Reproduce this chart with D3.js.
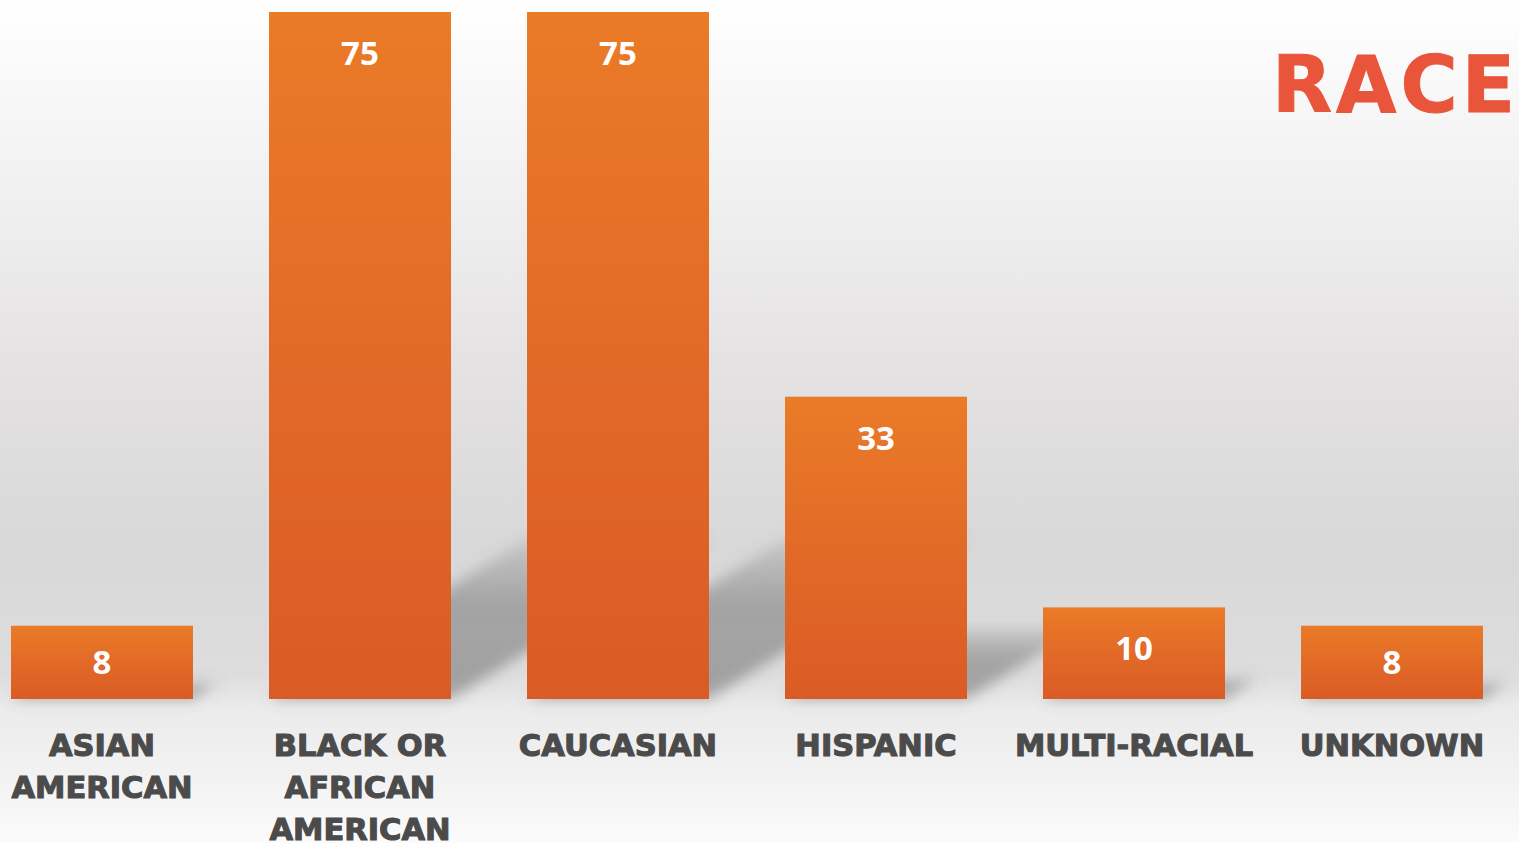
<!DOCTYPE html>
<html>
<head>
<meta charset="utf-8">
<script src="https://cdn.jsdelivr.net/npm/d3@7"></script>
<style>
  html, body { margin: 0; padding: 0; overflow: hidden; background: #fff; }
  svg { display: block; }
</style>
</head>
<body>
<svg id="chart" width="1519" height="843"></svg>
<script>
// ---- data ----
const categories = ["ASIAN\nAMERICAN", "BLACK OR\nAFRICAN\nAMERICAN", "CAUCASIAN", "HISPANIC", "MULTI-RACIAL", "UNKNOWN"];
const values = [8, 75, 75, 33, 10, 8];
const title = "RACE";

// ---- layout ----
const W = 1519, H = 843;
const svg = d3.select("#chart");
const defs = svg.append("defs");

// background gradient
const bg = defs.append("linearGradient").attr("id", "bg").attr("x1", 0).attr("y1", 0).attr("x2", 0).attr("y2", 1);
[[0, "#ffffff"], [0.2, "#f3f2f2"], [0.45, "#e3e1e2"], [0.65, "#d9d8d8"], [0.8, "#dedddd"], [0.84, "#ebebeb"], [0.92, "#f2f2f2"], [1, "#fbfbfb"]]
  .forEach(([o, c]) => bg.append("stop").attr("offset", o).attr("stop-color", c));
svg.append("rect").attr("width", W).attr("height", H).attr("fill", "url(#bg)");

// bar gradient
const bar = defs.append("linearGradient").attr("id", "barGrad").attr("x1", 0).attr("y1", 0).attr("x2", 0).attr("y2", 1);
[[0, "#ea7b27"], [0.5, "#e26a27"], [1, "#da5b25"]]
  .forEach(([o, c]) => bar.append("stop").attr("offset", o).attr("stop-color", c));

// shadow gradient (fades toward its top)
const sg = defs.append("linearGradient").attr("id", "shGrad").attr("x1", 0).attr("y1", 1).attr("x2", 0).attr("y2", 0);
[[0, "#6e6e6e", 0.55], [0.6, "#6e6e6e", 0.5], [1, "#6e6e6e", 0.15]]
  .forEach(([o, c, a]) => sg.append("stop").attr("offset", o).attr("stop-color", c).attr("stop-opacity", a));

// shadow blur
const f = defs.append("filter").attr("id", "blur").attr("x", "-20%").attr("y", "-20%").attr("width", "140%").attr("height", "140%");
f.append("feGaussianBlur").attr("stdDeviation", 7);

const x = d3.scaleBand().domain(d3.range(categories.length)).range([11, 1483]).paddingInner(0.2946).paddingOuter(0);
const y = d3.scaleLinear().domain([0, 75]).range([699, 12]);
const bw = x.bandwidth();

// shadows
const shadowG = svg.append("g").attr("filter", "url(#blur)");
shadowG.selectAll("polygon").data(values).join("polygon")
  .attr("points", (v, i) => {
    const x0 = x(i), x1 = x0 + bw, yb = y(0);
    const h = y(0) - y(v);
    const dy = 0.235 * h, dx = dy / 0.62;
    return [[x0, yb], [x1, yb], [x1 + dx, yb - dy], [x0 + dx, yb - dy]].map(p => p.join(",")).join(" ");
  })
  .attr("fill", "url(#shGrad)");

// bars
svg.append("g").selectAll("rect").data(values).join("rect")
  .attr("x", (v, i) => x(i))
  .attr("y", v => y(v))
  .attr("width", bw)
  .attr("height", v => y(0) - y(v))
  .attr("fill", "url(#barGrad)");

// value labels
svg.append("g").selectAll("text").data(values).join("text")
  .attr("x", (v, i) => x(i) + bw / 2)
  .attr("y", v => Math.min(y(v) + 41, (y(v) + y(0)) / 2) + 12)
  .attr("text-anchor", "middle")
  .attr("fill", "#ffffff")
  .attr("font-family", "'Open Sans', sans-serif")
  .attr("font-weight", 700)
  .attr("font-size", 33)
  .text(v => v);

// category labels
const lab = svg.append("g").selectAll("text").data(categories).join("text")
  .attr("text-anchor", "middle")
  .attr("fill", "#4b4b4b")
  .attr("stroke", "#4b4b4b")
  .attr("stroke-width", 1.1)
  .attr("font-family", "'DejaVu Sans', sans-serif")
  .attr("font-weight", 700)
  .attr("font-size", 30.5);
lab.each(function (c, i) {
  const t = d3.select(this);
  c.split("\n").forEach((line, k) => {
    t.append("tspan").attr("x", x(i) + bw / 2).attr("y", 756 + k * 42.2).text(line);
  });
});

// title
svg.append("text")
  .attr("x", 1272).attr("y", 112)
  .attr("fill", "#e9553b")
  .attr("stroke", "#e9553b")
  .attr("stroke-width", 1)
  .attr("font-family", "'DejaVu Sans', sans-serif")
  .attr("font-weight", 700)
  .attr("font-size", 78)
  .attr("letter-spacing", 4)
  .text(title);
</script>
</body>
</html>
